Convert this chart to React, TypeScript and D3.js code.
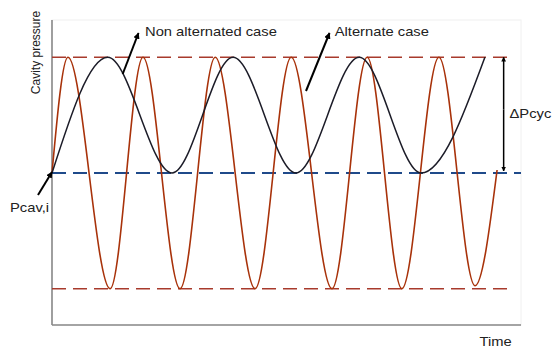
import React from "react";
import * as d3 from "d3";

// Time positions (arbitrary units) and pressure levels of the turning points
const nonAltTime = [0, 1.19, 2.56, 3.86, 5.2, 6.55, 7.87, 9.23];
const nonAltPressure = [1, 2, 1, 2, 1, 2, 1, 2];

const altTime = [0, 0.34, 1.24, 1.94, 2.73, 3.48, 4.33, 5.1, 5.97, 6.72, 7.46, 8.25, 9.02, 9.49];
const altPressure = [1, 2, 0, 2, 0, 2, 0, 2, 0, 2, 0, 2, 0.026, 1.026];

// Reference levels: upper / lower cycle limit and initial cavity pressure
const levelValues = [2, 0, 1];
const levelEnds = [9.77, 9.77, 10];
const levelNames = ["upper", "lower", "initial"];

const W = 552;
const H = 347;
const left = 52;
const right = 521;
const top = 20;
const bottom = 325;

const x = d3.scaleLinear().domain([0, 10]).range([left, right]);
const y = d3.scaleLinear().domain([0, 2]).range([288.7, 57.3]);

const line = d3
  .line<[number, number]>()
  .x((d) => x(d[0]))
  .y((d) => y(d[1]))
  .curve(d3.curveMonotoneX);

const zip = (a: number[], b: number[]) => a.map((t, i) => [t, b[i]] as [number, number]);

const RED = "#a8320a";
const DASH_RED = "#a83a2c";
const BLUE = "#1f4a8a";
const INK = "#1c1c28";
const TEXT = "#222";
const FONT = "'Liberation Sans', Arial, sans-serif";

function Label({ x: lx, y: ly, text, anchor = "start" }: { x: number; y: number; text: string; anchor?: string }) {
  return (
    <text
      transform={`translate(${lx},${ly}) scale(1.18,1)`}
      fontFamily={FONT}
      fontSize={12.5}
      fill={TEXT}
      textAnchor={anchor as any}
    >
      {text}
    </text>
  );
}

function Arrow({ x1, y1, x2, y2, w = 2, both = false }: { x1: number; y1: number; x2: number; y2: number; w?: number; both?: boolean }) {
  return (
    <line
      x1={x1}
      y1={y1}
      x2={x2}
      y2={y2}
      stroke="#000"
      strokeWidth={w}
      markerEnd="url(#head)"
      markerStart={both ? "url(#headStart)" : undefined}
    />
  );
}

export default function App() {
  const levelColor = (i: number) => (levelNames[i] === "initial" ? BLUE : DASH_RED);
  return (
    <svg width={W} height={H} style={{ position: "absolute", left: 0, top: 0, background: "#fff" }}>
      <defs>
        <marker id="head" viewBox="0 0 10 10" refX="9" refY="5" markerWidth="3.2" markerHeight="3.2" orient="auto" markerUnits="strokeWidth">
          <path d="M0,0 L10,5 L0,10 z" fill="#000" />
        </marker>
        <marker id="headStart" viewBox="0 0 10 10" refX="1" refY="5" markerWidth="3.2" markerHeight="3.2" orient="auto" markerUnits="strokeWidth">
          <path d="M10,0 L0,5 L10,10 z" fill="#000" />
        </marker>
      </defs>

      {/* faint plot frame */}
      <rect x={left} y={top} width={right - left} height={bottom - top} fill="none" stroke="#f0f0f0" strokeWidth={1} />

      {/* axes */}
      <line x1={left} y1={top} x2={left} y2={bottom} stroke="#888" strokeWidth={1.6} />
      <line x1={left} y1={bottom} x2={right} y2={bottom} stroke="#888" strokeWidth={1.6} />

      {/* reference levels */}
      {levelValues.map((v, i) => (
        <line
          key={levelNames[i]}
          x1={x(0)}
          x2={x(levelEnds[i])}
          y1={y(v)}
          y2={y(v)}
          stroke={levelColor(i)}
          strokeWidth={levelNames[i] === "initial" ? 2 : 1.6}
          strokeDasharray="14 7"
        />
      ))}

      {/* alternate case */}
      <path d={line(zip(altTime, altPressure)) || ""} fill="none" stroke={RED} strokeWidth={1.6} />
      {/* non alternated case */}
      <path d={line(zip(nonAltTime, nonAltPressure)) || ""} fill="none" stroke={INK} strokeWidth={1.5} />

      {/* annotations */}
      <Arrow x1={122.7} y1={74} x2={138.5} y2={33} />
      <Arrow x1={306} y1={91} x2={329.5} y2={33} />
      <Arrow x1={38} y1={195} x2={x(0)} y2={y(1) - 1} />
      <Arrow x1={x(9.63)} y1={y(1.55)} x2={x(9.63)} y2={y(2)} w={1.5} />
      <Arrow x1={x(9.63)} y1={y(1.55)} x2={x(9.63)} y2={y(1) - 2} w={1.5} />

      <Label x={145} y={35.7} text="Non alternated case" />
      <Label x={334.7} y={35.7} text="Alternate case" />
      <Label x={509.5} y={118} text="ΔPcyc" />
      <Label x={10} y={212} text="Pcav,i" />
      <Label x={479.5} y={345.5} text="Time" />
      <text
        transform="translate(39.5,52.5) rotate(-90)"
        fontFamily={FONT}
        fontSize={12}
        fill={TEXT}
        textAnchor="middle"
      >
        Cavity pressure
      </text>
    </svg>
  );
}
